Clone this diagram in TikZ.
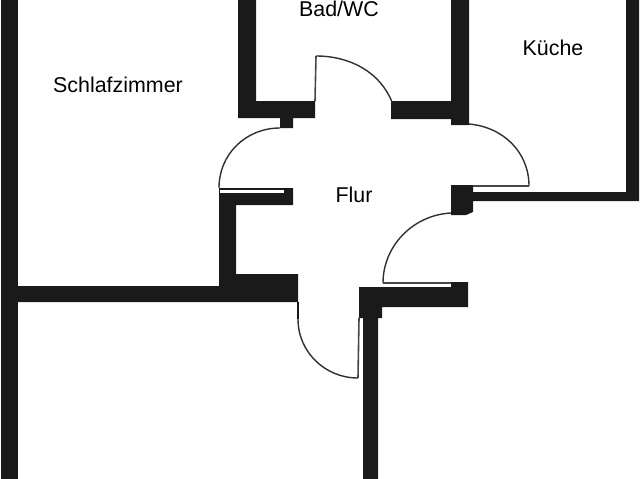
\documentclass[tikz,border=0pt]{standalone}
\usepackage{fontspec}
\setmainfont{Liberation Sans}
\definecolor{wallc}{HTML}{1A1A1A}
\tikzset{
  wall/.style={fill=wallc,draw=none},
  swing/.style={draw=wallc!90!white,line width=1.4pt,fill=none},
  leaf/.style={draw=wallc!80!white,line width=1.6pt},
  room/.style={font=\fontsize{21.4}{25}\selectfont,text=black,inner sep=0pt}
}
\begin{document}
\begin{tikzpicture}[x=1pt,y=-1pt]
\useasboundingbox (0,0) rectangle (640,479);
\fill[white] (0,0) rectangle (640,479);
% outer left wall
\fill[wall] (1,0) rectangle (18,479);
% wall below Schlafzimmer with the step up to the door
\fill[wall] (18,286) -- (219,286) -- (219,188) -- (293,188) -- (293,205) -- (236,205) -- (236,274) -- (298,274) -- (298,302) -- (18,302) -- cycle;
\fill[white] (220,189.5) rectangle (284,193);
\fill[wall] (297,302) rectangle (299,319);
% Bad walls
\fill[wall] (238,0) -- (256,0) -- (256,101) -- (315,101) -- (315,118) -- (293,118) -- (293,128) -- (280,128) -- (280,118) -- (238,118) -- cycle;
\fill[wall] (391,101) -- (451,101) -- (451,0) -- (469,0) -- (469,125) -- (451,125) -- (451,119) -- (391,119) -- cycle;
% Kueche walls
\fill[wall] (451,185) -- (473,185) -- (473,192) -- (626,192) -- (626,0) -- (639,0) -- (639,201) -- (473,201) -- (473,212) -- (466,215) -- (451,215) -- cycle;
% lower right corner wall
\fill[wall] (359,287) -- (451,287) -- (451,282) -- (468,282) -- (468,307) -- (382,307) -- (382,318) -- (378,318) -- (378,479) -- (363,479) -- (363,318) -- (359,318) -- cycle;
% door leaves
\draw[leaf] (315,101) -- (316,56);
\draw[leaf] (473,186) -- (529,186);
\draw[leaf] (383,283) -- (451,283);
\draw[leaf] (359,318) -- (358,378);
% door swings
\draw[swing] (316,56) .. controls (350,56) and (380,72) .. (392,102);
\draw[swing] (280,128) .. controls (246,128) and (219,154) .. (219,188);
\draw[swing] (469,124) .. controls (503,127) and (529,152) .. (529,186);
\draw[swing] (451,213) .. controls (413,215) and (383,246) .. (383,283);
\draw[swing] (298,319) .. controls (298,352) and (325,378) .. (358,378);
% labels
\node[room] (bad) at (339,9.2) {Bad/WC};
\node[room] (kueche) at (553,48) {Küche};
\node[room] (schlaf) at (118,85) {Schlafzimmer};
\node[room] (flur) at (354,195) {Flur};
\end{tikzpicture}
\end{document}
